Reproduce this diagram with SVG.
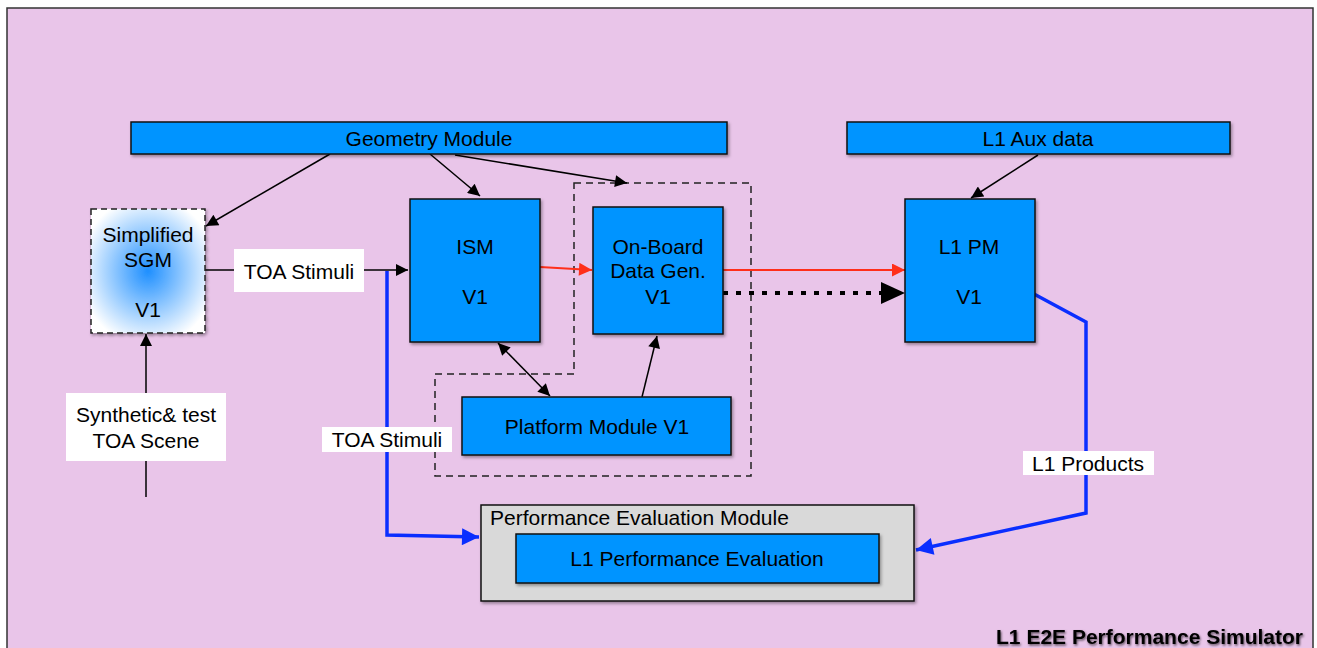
<svg xmlns="http://www.w3.org/2000/svg" width="1317" height="648" viewBox="0 0 1317 648">
<style>
text{font-family:"Liberation Sans",Arial,sans-serif;font-size:21px;fill:#000;text-anchor:middle;dominant-baseline:central}
.box{fill:#0094FF;stroke:#111;stroke-width:1.5;filter:url(#sh)}
.lbl{fill:#fff}
.k{stroke:#000;stroke-width:1.5;fill:none}
.red{stroke:#FF2F1A;stroke-width:2;fill:none}
.blue{stroke:#0A2EFF;stroke-width:3.5;fill:none}
.dash{stroke:#222;stroke-width:1.5;fill:none;stroke-dasharray:7 5}
</style>
<defs>
<filter id="sh" x="-10%" y="-10%" width="130%" height="130%"><feDropShadow dx="1.5" dy="2" stdDeviation="1.5" flood-color="#000" flood-opacity="0.35"/></filter>
<filter id="tsh" x="-5%" y="-30%" width="110%" height="160%"><feDropShadow dx="1" dy="1.5" stdDeviation="1.2" flood-color="#000" flood-opacity="0.6"/></filter>
<radialGradient id="rg" cx="0.5" cy="0.5" r="0.6"><stop offset="0" stop-color="#1E8FFF"/><stop offset="1" stop-color="#FFFFFF"/></radialGradient>
<marker id="ak" viewBox="0 0 10 10" refX="10" refY="5" markerWidth="15" markerHeight="12" markerUnits="userSpaceOnUse" orient="auto-start-reverse"><path d="M0,0L10,5L0,10z" fill="#000"/></marker>
<marker id="ar" viewBox="0 0 10 10" refX="10" refY="5" markerWidth="17" markerHeight="13" markerUnits="userSpaceOnUse" orient="auto"><path d="M0,0L10,5L0,10z" fill="#FF2F1A"/></marker>
<marker id="ab" viewBox="0 0 10 10" refX="10" refY="5" markerWidth="21" markerHeight="17" markerUnits="userSpaceOnUse" orient="auto"><path d="M0,0L10,5L0,10z" fill="#0A2EFF"/></marker>
</defs>
<rect width="1317" height="648" fill="#fff"/>
<g id="frame">
<rect x="7" y="8" width="1306" height="660" fill="#E9C5E9" stroke="#333" stroke-width="1.5"/>
<text x="1303" y="636" style="font-weight:bold;font-size:21px;text-anchor:end;filter:url(#tsh)">L1 E2E Performance Simulator</text>
</g>
<g id="group-dashed"><path class="dash" d="M574,183H751V476H435V374H574Z"/></g>
<g id="connectors">
<path class="k" d="M330,154L206,226" marker-end="url(#ak)"/>
<path class="k" d="M430,154L480,196" marker-end="url(#ak)"/>
<path class="k" d="M455,155L627,183" marker-end="url(#ak)"/>
<path class="k" d="M1038,155L971,198" marker-end="url(#ak)"/>
<path class="k" d="M205,270H408" marker-end="url(#ak)"/>
<path class="k" d="M146,497V334" marker-end="url(#ak)"/>
<path class="k" d="M498,343L550,396" marker-start="url(#ak)" marker-end="url(#ak)"/>
<path class="k" d="M642,397L657,336" marker-end="url(#ak)"/>
<path class="red" d="M540,267L592,270" marker-end="url(#ar)"/>
<path class="red" d="M723,270H905" marker-end="url(#ar)"/>
<path d="M723,293H884" stroke="#000" stroke-width="4" stroke-dasharray="5 8" fill="none"/>
<path d="M881,282L905,293L881,304z" fill="#000"/>
<path class="blue" d="M387,271V535L479,537" marker-end="url(#ab)"/>
<path class="blue" d="M1034,294L1086,322V513L916,550" marker-end="url(#ab)"/>
<rect class="lbl" x="234" y="249" width="130" height="43"/>
<text x="299" y="271">TOA Stimuli</text>
<rect class="lbl" x="66" y="393" width="160" height="68"/>
<text x="146" y="414">Synthetic&amp; test</text>
<text x="146" y="440">TOA Scene</text>
<rect class="lbl" x="322" y="427" width="130" height="25"/>
<text x="387" y="439">TOA Stimuli</text>
<rect class="lbl" x="1023" y="451" width="131" height="24"/>
<text x="1088" y="463">L1 Products</text>
</g>
<g id="geometry"><rect class="box" x="131" y="122" width="596" height="32"/><text x="429" y="138">Geometry Module</text></g>
<g id="aux"><rect class="box" x="847" y="122" width="383" height="32"/><text x="1038" y="138">L1 Aux data</text></g>
<g id="sgm"><rect x="91" y="209" width="114" height="124" fill="url(#rg)" stroke="#222" stroke-width="1.5" stroke-dasharray="6 4" filter="url(#sh)"/>
<text x="148" y="234">Simplified</text><text x="148" y="259">SGM</text><text x="148" y="309">V1</text></g>
<g id="ism"><rect class="box" x="410" y="199" width="130" height="143"/><text x="475" y="246">ISM</text><text x="475" y="296">V1</text></g>
<g id="obdg"><rect class="box" x="593" y="207" width="130" height="127"/><text x="658" y="246">On-Board</text><text x="658" y="270">Data Gen.</text><text x="658" y="296">V1</text></g>
<g id="l1pm"><rect class="box" x="905" y="199" width="130" height="143"/><text x="969" y="246">L1 PM</text><text x="969" y="296">V1</text></g>
<g id="platform"><rect class="box" x="462" y="397" width="269" height="58"/><text x="597" y="426">Platform Module V1</text></g>
<g id="pem"><rect x="481" y="505" width="433" height="96" fill="#D9D9D9" stroke="#111" stroke-width="1.5" filter="url(#sh)"/>
<text x="490" y="517" style="text-anchor:start">Performance Evaluation Module</text>
<rect class="box" x="516" y="534" width="363" height="49"/><text x="697" y="558">L1 Performance Evaluation</text></g>
</svg>
